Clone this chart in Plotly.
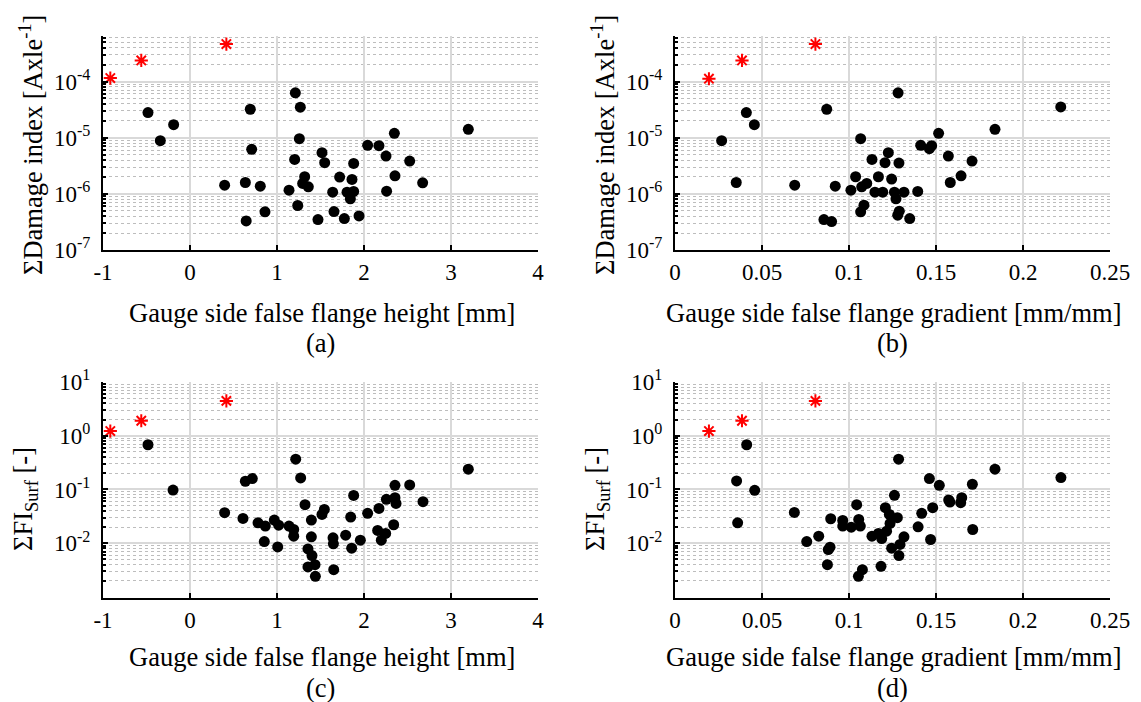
import plotly.graph_objects as go
from plotly.subplots import make_subplots

# (a) damage index vs false flange height
a_star_x = [-0.916, -0.56, 0.418]
a_star_y = [1.15e-4, 2.37e-4, 4.64e-4]
a_x = [-0.483, -0.188, -0.341, 0.693, 0.709, 0.398, 0.636, 0.808, 0.646, 0.862,
       1.211, 1.268, 1.257, 1.203, 1.138, 1.238, 1.318, 1.295, 1.360, 1.517,
       1.548, 1.471, 1.640, 1.655, 1.720, 1.774, 1.881, 1.862, 1.805, 1.881,
       1.843, 1.943, 2.042, 2.172, 2.253, 2.349, 2.356, 2.260, 2.525, 2.674, 3.199]
a_logy = [-4.553, -4.768, -5.054, -4.494, -5.208, -5.845, -5.798, -5.863, -6.482, -6.321,
          -4.202, -4.458, -5.018, -5.387, -5.935, -6.208, -5.696, -5.815, -5.875, -5.268,
          -5.446, -6.458, -5.970, -6.315, -5.702, -6.440, -5.458, -5.744, -5.970, -5.958,
          -6.089, -6.393, -5.137, -5.143, -5.327, -4.923, -5.679, -5.952, -5.417, -5.804, -4.851]

# (b) damage index vs false flange gradient
b_star_x = [0.0195, 0.0385, 0.0807]
b_star_y = [1.12e-4, 2.37e-4, 4.64e-4]
b_x = [0.0268, 0.0410, 0.0456, 0.0352, 0.0688, 0.0872, 0.1282, 0.2217, 0.1839, 0.1515,
       0.1067, 0.1412, 0.1475, 0.1462, 0.1571, 0.1707, 0.1132, 0.1226, 0.1207, 0.1287,
       0.1038, 0.1169, 0.1245, 0.1102, 0.1073, 0.0921, 0.1011, 0.1149, 0.1194, 0.1261,
       0.1316, 0.1395, 0.1270, 0.1582, 0.1644, 0.1086, 0.1067, 0.1289, 0.1280, 0.1349,
       0.0856, 0.0900]
b_logy = [-5.054, -4.553, -4.768, -5.798, -5.845, -4.494, -4.202, -4.452, -4.851, -4.923,
          -5.018, -5.137, -5.143, -5.196, -5.327, -5.417, -5.387, -5.268, -5.446, -5.452,
          -5.696, -5.696, -5.738, -5.815, -5.875, -5.863, -5.935, -5.970, -5.970, -5.970,
          -5.970, -5.958, -6.089, -5.798, -5.679, -6.202, -6.321, -6.309, -6.381, -6.440,
          -6.458, -6.494]

# (c) surface fatigue index vs false flange height
c_star_x = [-0.916, -0.56, 0.418]
c_star_y = [1.22, 1.9, 4.45]
c_x = [-0.483, -0.195, 0.398, 0.609, 0.636, 0.716, 0.782, 0.866, 0.854, 0.969,
       1.019, 1.008, 1.138, 1.192, 1.192, 1.215, 1.272, 1.322, 1.395, 1.395,
       1.356, 1.402, 1.356, 1.437, 1.441, 1.517, 1.544, 1.644, 1.648, 1.652,
       1.789, 1.858, 1.847, 1.881, 1.958, 2.042, 2.172, 2.157, 2.199, 2.249,
       2.257, 2.341, 2.356, 2.356, 2.368, 2.525, 2.678, 3.199]
c_logy = [-0.168, -1.012, -1.433, -1.539, -0.847, -0.798, -1.620, -1.682, -1.969, -1.570,
          -1.664, -2.069, -1.682, -1.745, -1.869, -0.436, -0.785, -1.283, -1.570, -1.882,
          -2.106, -2.231, -2.442, -2.399, -2.617, -1.464, -1.371, -1.900, -2.012, -2.492,
          -1.850, -2.093, -1.514, -1.112, -1.944, -1.445, -1.352, -1.763, -1.944, -1.819,
          -1.184, -1.657, -0.922, -1.153, -1.259, -0.916, -1.227, -0.623]

# (d) surface fatigue index vs false flange gradient
d_star_x = [0.0195, 0.0385, 0.0807]
d_star_y = [1.22, 1.9, 4.45]
d_x = [0.0412, 0.0354, 0.0458, 0.0360, 0.0686, 0.0757, 0.0826, 0.0895, 0.0891, 0.0881,
       0.0876, 0.0964, 0.0964, 0.1013, 0.1044, 0.1056, 0.1065, 0.1077, 0.1054, 0.1132,
       0.1169, 0.1188, 0.1184, 0.1209, 0.1232, 0.1236, 0.1216, 0.1278, 0.1261, 0.1285,
       0.1245, 0.1293, 0.1316, 0.1287, 0.1397, 0.1418, 0.1462, 0.1481, 0.1469, 0.1519,
       0.1573, 0.1580, 0.1642, 0.1648, 0.1709, 0.1711, 0.1839, 0.2218]
d_logy = [-0.168, -0.841, -1.016, -1.620, -1.427, -1.969, -1.869, -1.545, -2.075, -2.118,
          -2.399, -1.576, -1.682, -1.701, -1.283, -1.558, -1.682, -2.492, -2.617, -1.869,
          -1.819, -1.913, -2.430, -1.340, -1.464, -1.632, -1.776, -1.526, -1.109, -0.436,
          -2.093, -2.024, -1.882, -2.231, -1.695, -1.445, -0.798, -1.340, -1.931, -0.922,
          -1.196, -1.234, -1.246, -1.153, -0.903, -1.745, -0.623, -0.779]

x_h_ticks = [-1, 0, 1, 2, 3, 4]
x_h_text = ["-1", "0", "1", "2", "3", "4"]
x_g_ticks = [0, 0.05, 0.1, 0.15, 0.2, 0.25]
x_g_text = ["0", "0.05", "0.1", "0.15", "0.2", "0.25"]
dmg_decades = [-7, -6, -5, -4]
fi_decades = [-2, -1, 0, 1]
x_titles = ["Gauge side false flange height [mm]", "Gauge side false flange gradient [mm/mm]"]
y_titles = ["ΣDamage index [Axle<sup>-1</sup>]", "ΣFI<sub>Surf</sub> [-]"]
captions = ["(a)", "(b)", "(c)", "(d)"]

FONT = "Times New Roman, Liberation Serif, Tinos, DejaVu Serif, serif"
W, H = 1141, 702

fig = make_subplots(rows=2, cols=2)

panels = [
    (1, 1, a_x, a_logy, a_star_x, a_star_y),
    (1, 2, b_x, b_logy, b_star_x, b_star_y),
    (2, 1, c_x, c_logy, c_star_x, c_star_y),
    (2, 2, d_x, d_logy, d_star_x, d_star_y),
]
for r, c, px, ply, sx, sy in panels:
    fig.add_trace(go.Scatter(x=px, y=[10 ** v for v in ply], mode="markers",
                             marker=dict(symbol="circle", size=11, color="black"),
                             showlegend=False), row=r, col=c)
    fig.add_trace(go.Scatter(x=sx, y=sy, mode="markers",
                             marker=dict(symbol="asterisk-open", size=11, color="red",
                                         line=dict(color="red", width=2)),
                             showlegend=False), row=r, col=c)

def minor_vals(decs):
    return [m * 10.0 ** d for d in decs for m in range(2, 10)]

# panel boxes in pixels
xpx = [(103, 538), (675, 1110)]
ypx = [(36, 250), (382, 598)]
xdom = [[a / W, b / W] for a, b in xpx]
ydom = [[1 - b / H, 1 - a / H] for a, b in ypx]

axis_common = dict(showline=True, linecolor="black", linewidth=2, mirror=False,
                   ticks="inside", ticklen=5, tickwidth=1.5, tickcolor="black",
                   showgrid=True, gridcolor="#d9d9d9", gridwidth=2, zeroline=False,
                   automargin=False,
                   tickfont=dict(family=FONT, size=23, color="black"))

for r in (1, 2):
    for c in (1, 2):
        if c == 1:
            xt, xtx, xr = x_h_ticks, x_h_text, [-1, 4]
        else:
            xt, xtx, xr = x_g_ticks, x_g_text, [0, 0.25]
        fig.update_xaxes(domain=xdom[c - 1], range=xr, tickmode="array", tickvals=xt, ticktext=xtx,
                         row=r, col=c, **axis_common)
        if r == 1:
            decs, yr, mdecs = dmg_decades, [-7, -3.19], [-7, -6, -5, -4]
        else:
            decs, yr, mdecs = fi_decades, [-3.02, 1.0], [-3, -2, -1, 0]
        fig.update_yaxes(domain=ydom[r - 1], type="log", range=yr, tickmode="array",
                         tickvals=[10.0 ** d for d in decs],
                         ticktext=["10<sup>%d</sup>" % d for d in decs],
                         ticklabelstandoff=6,
                         minor=dict(tickmode="array", tickvals=minor_vals(mdecs), ticks="inside",
                                    ticklen=3, tickcolor="black", showgrid=True,
                                    gridcolor="#bdbdbd", griddash="dot", gridwidth=1),
                         row=r, col=c, **axis_common)

def add_text(text, xp, yp, angle=0):
    fig.add_annotation(text=text, x=xp / W, y=1 - yp / H, xref="paper", yref="paper",
                       xanchor="center", yanchor="middle", textangle=angle, showarrow=False,
                       font=dict(family=FONT, size=26.5, color="black"))

title_y = [313, 657]
cap_y = [343, 688]
ytitle_x = [31, 25]
ytitle_y = [145, 499]
for r in range(2):
    for c in range(2):
        xc = (xpx[c][0] + xpx[c][1]) / 2
        add_text(x_titles[c], xc + 1, title_y[r])
        add_text(captions[r * 2 + c], xc, cap_y[r])
        add_text(y_titles[r], ytitle_x[r] + xpx[c][0] - 103, ytitle_y[r], angle=-90)

fig.update_layout(width=W, height=H, margin=dict(l=0, r=0, t=0, b=0),
                  paper_bgcolor="white", plot_bgcolor="white")

# drop the browser's default page margin so the figure sits at the window's corner
fig.write_html("out.html", config={"displayModeBar": False},
               post_script="document.body.style.margin='0';")
